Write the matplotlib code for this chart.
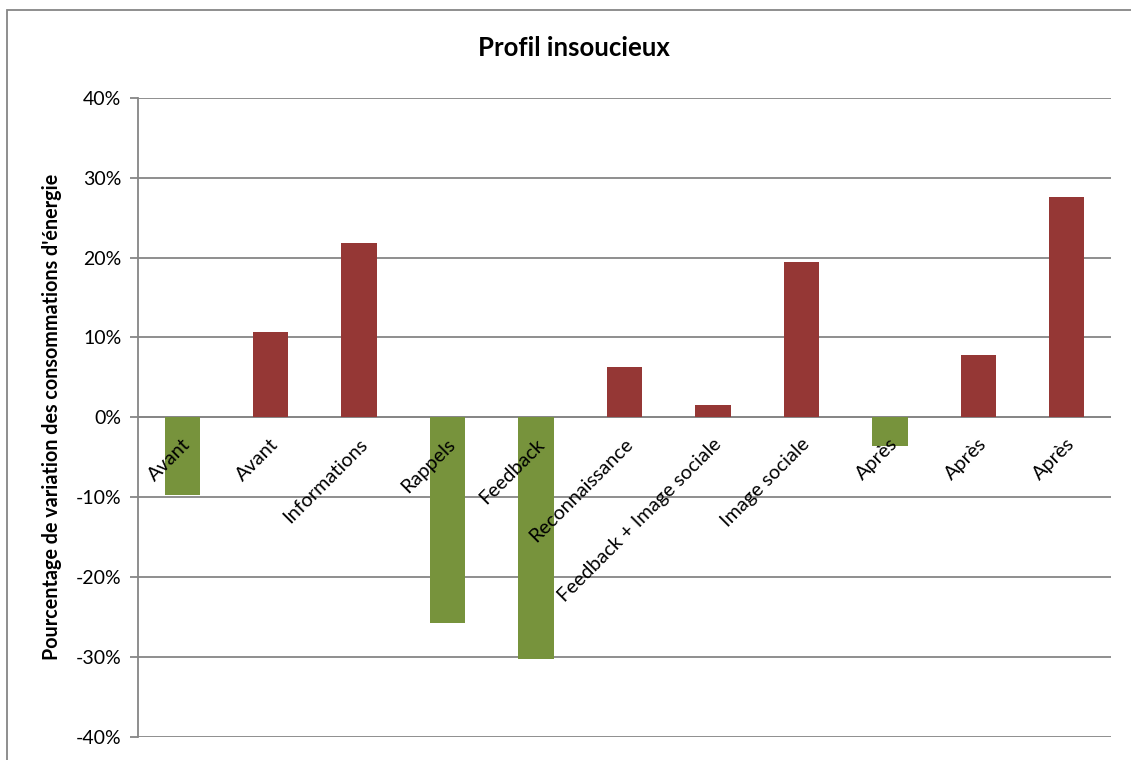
import matplotlib
matplotlib.use("Agg")
import matplotlib.pyplot as plt
from matplotlib.patches import Rectangle
import numpy as np

# data
categories = ["Avant", "Avant", "Informations", "Rappels", "Feedback", "Reconnaissance",
              "Feedback + Image sociale", "Image sociale", "Après", "Après", "Après"]
values = [-9.7, 10.7, 21.8, -25.7, -30.2, 6.3, 1.6, 19.5, -3.6, 7.8, 27.6]
y_ticks = [-40, -30, -20, -10, 0, 10, 20, 30, 40]

red = "#953735"
green = "#77933C"
grid_col = "#868686"

plt.rcParams['font.family'] = ['Lato', 'DejaVu Sans']

fig = plt.figure(figsize=(11.31, 7.6), dpi=100)
ax = fig.add_axes([138 / 1131, 1 - 737 / 760, (1111 - 138) / 1131, (737 - 97.7) / 760])

# outer chart frame (cropped on right/bottom in the reference)
fig.patches.append(Rectangle((7 / 1131, -0.05), 1.2, 1 - 10 / 760 + 0.05, transform=fig.transFigure,
                             fill=False, edgecolor=grid_col, linewidth=1.3))

x = np.arange(len(categories))
colors = [green if v < 0 else red for v in values]
ax.bar(x, values, width=0.4, color=colors, zorder=3)

ax.set_xlim(-0.5, len(categories) - 0.5)
ax.set_ylim(-40, 40)
ax.set_yticks(y_ticks)
ax.set_yticklabels([f"{t}%" for t in y_ticks], fontsize=14)
ax.yaxis.grid(True, color=grid_col, linewidth=1.3, zorder=0)
ax.axhline(0, color=grid_col, linewidth=1.3, zorder=2)
ax.tick_params(axis='y', length=6, width=1.3, color=grid_col, pad=6)
ax.set_xticks([])
for s in ["top", "right", "bottom"]:
    ax.spines[s].set_visible(False)
ax.spines["left"].set_color(grid_col)
ax.spines["left"].set_linewidth(1.3)

# category labels rotated under the zero line
for xi, lab in zip(x, categories):
    ax.annotate(lab, xy=(xi, 0), xytext=(-0.5, -13), textcoords="offset points",
                rotation=45, rotation_mode="anchor", ha="right", va="top", fontsize=14.3)

ax.set_ylabel("Pourcentage de variation des consommations d'énergie", fontsize=14.2,
              fontweight="bold", labelpad=10)
fig.text(574 / 1131, 1 - 48 / 760, "Profil insoucieux", ha="center", va="center",
         fontsize=18.5, fontweight="bold")

fig.savefig("out.png", dpi=100)
